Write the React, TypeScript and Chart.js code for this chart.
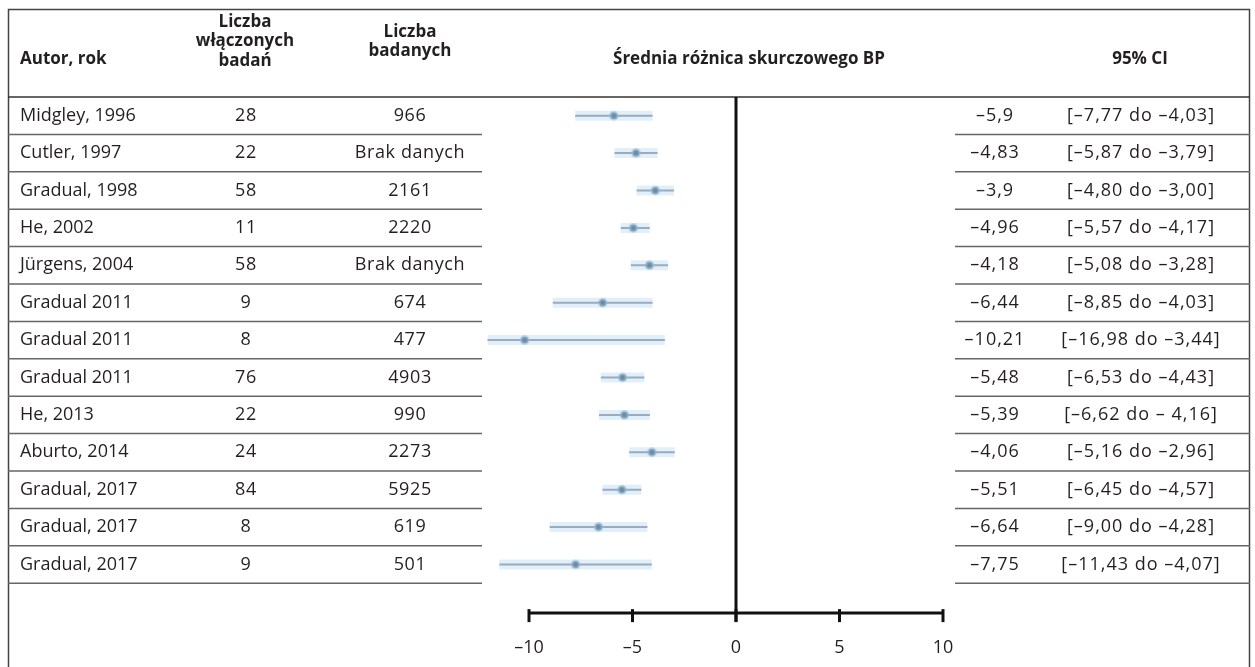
import React, { useEffect, useRef } from "react";
import { Chart, registerables } from "chart.js";

Chart.register(...registerables);

const authors = [
  "Midgley, 1996", "Cutler, 1997", "Gradual, 1998", "He, 2002", "Jürgens, 2004",
  "Gradual 2011", "Gradual 2011", "Gradual 2011", "He, 2013", "Aburto, 2014",
  "Gradual, 2017", "Gradual, 2017", "Gradual, 2017",
];
const studies = [28, 22, 58, 11, 58, 9, 8, 76, 22, 24, 84, 8, 9];
const participants = [
  "966", "Brak danych", "2161", "2220", "Brak danych", "674", "477", "4903",
  "990", "2273", "5925", "619", "501",
];
const meanDiff = [-5.9, -4.83, -3.9, -4.96, -4.18, -6.44, -10.21, -5.48, -5.39, -4.06, -5.51, -6.64, -7.75];
const ciLow = [-7.77, -5.87, -4.8, -5.57, -5.08, -8.85, -16.98, -6.53, -6.62, -5.16, -6.45, -9.0, -11.43];
const ciHigh = [-4.03, -3.79, -3.0, -4.17, -3.28, -4.03, -3.44, -4.43, -4.16, -2.96, -4.57, -4.28, -4.07];
const ciLabels = [
  "[–7,77 do –4,03]", "[–5,87 do –3,79]", "[–4,80 do –3,00]", "[–5,57 do –4,17]",
  "[–5,08 do –3,28]", "[–8,85 do –4,03]", "[–16,98 do –3,44]", "[–6,53 do –4,43]",
  "[–6,62 do – 4,16]", "[–5,16 do –2,96]", "[–6,45 do –4,57]", "[–9,00 do –4,28]",
  "[–11,43 do –4,07]",
];
const xTicks = [-10, -5, 0, 5, 10];

const fmt = (v: number) => String(v).replace(".", ",").replace("-", "–");

const FONT = "'Open Sans', 'Noto Sans', sans-serif";

const tablePlugin = {
  id: "forestTable",
  afterDraw(chart: any) {
    const { ctx, scales } = chart;
    const xs = scales.x;
    const ys = scales.y;
    const H = 667;
    ctx.save();
    // outer border
    ctx.strokeStyle = "#444";
    ctx.lineWidth = 1.5;
    ctx.beginPath();
    ctx.moveTo(8.5, H);
    ctx.lineTo(8.5, 9.5);
    ctx.lineTo(1249.5, 9.5);
    ctx.lineTo(1249.5, H);
    ctx.stroke();
    // header bottom line
    const headY = ys.getPixelForValue(-0.5);
    ctx.strokeStyle = "#333";
    ctx.beginPath();
    ctx.moveTo(8, headY);
    ctx.lineTo(1250, headY);
    ctx.stroke();
    // row lines
    ctx.strokeStyle = "#666";
    for (let i = 0; i < authors.length; i++) {
      const y = ys.getPixelForValue(i + 0.5);
      ctx.beginPath();
      ctx.moveTo(8, y);
      ctx.lineTo(482, y);
      ctx.moveTo(955, y);
      ctx.lineTo(1250, y);
      ctx.stroke();
    }
    // header text
    ctx.fillStyle = "#231f20";
    ctx.textBaseline = "middle";
    ctx.font = `bold 17px ${FONT}`;
    ctx.textAlign = "left";
    ctx.fillText("Autor, rok", 20, 59);
    ctx.textAlign = "center";
    ctx.fillText("Liczba", 245, 22);
    ctx.fillText("włączonych", 245, 41);
    ctx.fillText("badań", 245, 61);
    ctx.fillText("Liczba", 410, 32);
    ctx.fillText("badanych", 410, 51);
    ctx.fillText("Średnia różnica skurczowego BP", 749, 59);
    ctx.fillText("95% CI", 1140, 59);
    // body text
    ctx.font = `18px ${FONT}`;
    for (let i = 0; i < authors.length; i++) {
      const y = ys.getPixelForValue(i);
      ctx.letterSpacing = "0px";
      ctx.textAlign = "left";
      ctx.fillText(authors[i], 20, y);
      ctx.textAlign = "center";
      ctx.letterSpacing = "0.6px";
      ctx.fillText(String(studies[i]), 246, y);
      ctx.fillText(participants[i], 410, y);
      ctx.letterSpacing = "1px";
      ctx.fillText(fmt(meanDiff[i]), 995, y);
      ctx.fillText(ciLabels[i], 1141, y);
    }
    ctx.letterSpacing = "0px";
    // zero line
    const x0 = xs.getPixelForValue(0);
    const axisY = ys.getPixelForValue(ys.max);
    ctx.strokeStyle = "#111";
    ctx.lineWidth = 3;
    ctx.beginPath();
    ctx.moveTo(x0, headY);
    ctx.lineTo(x0, axisY + 9);
    ctx.stroke();
    // x axis
    const xa = xs.getPixelForValue(xTicks[0]);
    const xb = xs.getPixelForValue(xTicks[xTicks.length - 1]);
    ctx.beginPath();
    ctx.moveTo(xa, axisY);
    ctx.lineTo(xb, axisY);
    ctx.stroke();
    ctx.font = `18px ${FONT}`;
    ctx.textAlign = "center";
    for (const t of xTicks) {
      const px = xs.getPixelForValue(t);
      ctx.beginPath();
      ctx.moveTo(px, axisY - 4);
      ctx.lineTo(px, axisY + 9);
      ctx.stroke();
      ctx.fillText(fmt(t), px, 648);
    }
    ctx.restore();
  },
};

export default function App() {
  const ref = useRef<HTMLCanvasElement | null>(null);
  useEffect(() => {
    if (!ref.current) return;
    const halos = meanDiff.map((_, i) => ({
      type: "line" as const,
      data: [
        { x: ciLow[i], y: i },
        { x: ciHigh[i], y: i },
      ],
      borderColor: "rgba(200,225,245,0.55)",
      borderWidth: 10,
      pointRadius: 0,
      order: 3,
    }));
    const lines = meanDiff.map((_, i) => ({
      type: "line" as const,
      data: [
        { x: ciLow[i], y: i },
        { x: ciHigh[i], y: i },
      ],
      borderColor: "#9aacbb",
      borderWidth: 2,
      pointRadius: 0,
      order: 2,
    }));
    const points = {
      type: "scatter" as const,
      data: meanDiff.map((v, i) => ({ x: v, y: i })),
      backgroundColor: "#6f8a9e",
      borderColor: "rgba(150,190,222,0.5)",
      borderWidth: 3,
      pointRadius: 3.5,
      order: 1,
    };
    const chart = new Chart(ref.current, {
      type: "scatter",
      data: { datasets: [points, ...lines, ...halos] as any },
      options: {
        animation: false,
        responsive: false,
        maintainAspectRatio: false,
        layout: { padding: { left: 487.6, right: 312, top: 97, bottom: 53.9 } },
        plugins: { legend: { display: false }, tooltip: { enabled: false } },
        scales: {
          x: { type: "linear", min: -12, max: 10, display: false },
          y: { type: "linear", min: -0.5, max: 13.3, reverse: true, display: false },
        },
      },
      plugins: [tablePlugin],
    });
    return () => chart.destroy();
  }, []);
  return (
    <div style={{ position: "fixed", left: 0, top: 0, width: 1255, height: 667, background: "#fff" }}>
      <canvas ref={ref} width={1255} height={667} style={{ width: 1255, height: 667, display: "block" }} />
    </div>
  );
}
